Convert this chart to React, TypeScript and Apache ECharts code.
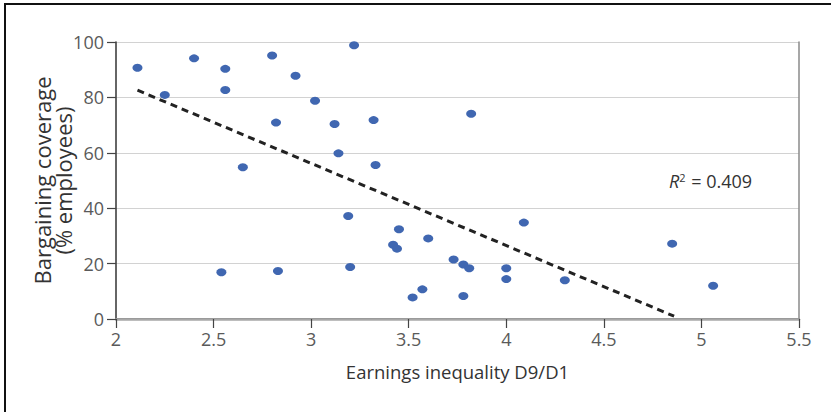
import { useEffect, useRef } from "react";
import * as echarts from "echarts";

// Earnings inequality (D9/D1 ratio) per country
const inequality = [
  2.11, 2.25, 2.4, 2.56, 2.56, 2.8, 2.92, 3.22, 3.02, 2.82, 3.12, 3.32,
  3.82, 2.65, 3.14, 3.33, 3.19, 3.45, 3.42, 3.44, 3.6, 4.09, 4.85, 5.06,
  4.3, 4.0, 4.0, 3.73, 3.78, 3.81, 3.78, 3.57, 3.52, 2.54, 2.83, 3.2,
];

// Collective bargaining coverage (% of employees), same order
const coverage = [
  90.7, 80.9, 94.1, 90.3, 82.7, 95.1, 87.8, 98.8, 78.8, 70.9, 70.4, 71.8,
  74.1, 54.8, 59.8, 55.6, 37.2, 32.4, 26.8, 25.4, 29.1, 34.8, 27.2, 12.0,
  14.0, 18.3, 14.4, 21.5, 19.7, 18.3, 8.3, 10.7, 7.8, 16.9, 17.3, 18.8,
];

// Fitted linear trend, drawn between its two end points
const trendX = [2.11, 4.86];
const trendY = [82.6, 1.0];
const rSquared = "0.409";

// Axis ranges and steps
const xRange = [2, 5.5];
const xStep = 0.5;
const yRange = [0, 100];
const yStep = 20;

const FONT = "'Open Sans', 'Noto Sans', sans-serif";
const TICK_TEXT = "#5a5a5a";
const NAME_TEXT = "#333333";

export default function App() {
  const ref = useRef<HTMLDivElement>(null);

  useEffect(() => {
    if (!ref.current) return;
    const chart = echarts.init(ref.current, undefined, { renderer: "svg" });

    const points = inequality.map((x, i) => [x, coverage[i]]);
    const trend = trendX.map((x, i) => [x, trendY[i]]);

    chart.setOption({
      animation: false,
      backgroundColor: "#ffffff",
      textStyle: { fontFamily: FONT },
      grid: { left: 116, right: 32, top: 42, bottom: 93 },
      xAxis: [
        {
          type: "value",
          min: xRange[0],
          max: xRange[1],
          interval: xStep,
          name: "Earnings inequality D9/D1",
          nameLocation: "middle",
          nameGap: 43,
          nameMoveOverlap: false,
          nameTextStyle: { fontSize: 18.5, color: NAME_TEXT, fontFamily: FONT },
          axisLine: { show: true, lineStyle: { color: "#444", width: 1.5 } },
          axisTick: { show: true, length: 9, lineStyle: { color: "#444", width: 1.2 } },
          axisLabel: {
            fontSize: 18,
            color: TICK_TEXT,
            margin: 11,
            fontFamily: FONT,
            formatter: (v: number) => String(v),
          },
          splitLine: { show: false },
        },
        {
          type: "value",
          position: "top",
          min: xRange[0],
          max: xRange[1],
          interval: xStep,
          axisLine: { show: true, lineStyle: { color: "#a8a8a8", width: 2.5 } },
          axisTick: { show: false },
          axisLabel: { show: false },
          splitLine: { show: false },
        },
      ],
      yAxis: [
        {
          type: "value",
          min: yRange[0],
          max: yRange[1],
          interval: yStep,
          name: "Bargaining coverage\n(% employees)",
          nameLocation: "middle",
          nameGap: 43,
          nameMoveOverlap: false,
          nameTextStyle: {
            fontSize: 22,
            color: NAME_TEXT,
            fontFamily: FONT,
            lineHeight: 21,
          },
          axisLine: { show: true, lineStyle: { color: "#333", width: 1.5 } },
          axisTick: { show: true, length: 9, lineStyle: { color: "#444", width: 1.2 } },
          axisLabel: { fontSize: 18, color: TICK_TEXT, margin: 12, fontFamily: FONT },
          splitLine: { show: true, lineStyle: { color: "#d2d2d2", width: 1.2 } },
        },
        {
          type: "value",
          position: "right",
          min: yRange[0],
          max: yRange[1],
          interval: yStep,
          axisLine: { show: true, lineStyle: { color: "#8a8a8a", width: 1.5 } },
          axisTick: { show: false },
          axisLabel: { show: false },
          splitLine: { show: false },
        },
      ],
      series: [
        {
          type: "line",
          data: trend,
          xAxisIndex: 0,
          yAxisIndex: 0,
          showSymbol: false,
          symbol: "none",
          lineStyle: { color: "#222", width: 3, type: [7, 5] },
          z: 3,
        },
        {
          type: "scatter",
          data: points,
          xAxisIndex: 0,
          yAxisIndex: 0,
          symbol: "circle",
          symbolSize: [10, 8],
          itemStyle: { color: "#4067b1", opacity: 1 },
          z: 4,
        },
      ],
      graphic: [
        {
          type: "rect",
          shape: { x: 5, y: 4, width: 900, height: 500 },
          style: { fill: "none", stroke: "#111", lineWidth: 2 },
          silent: true,
        },
        {
          type: "text",
          left: 669,
          top: 172,
          style: {
            text: `{r|R}{s|2} = ${rSquared}`,
            fontSize: 18,
            fontFamily: FONT,
            fill: NAME_TEXT,
            rich: {
              r: { fontStyle: "italic", fontSize: 18, fontFamily: FONT, fill: NAME_TEXT },
              s: {
                fontSize: 11,
                fontFamily: FONT,
                fill: NAME_TEXT,
                verticalAlign: "top",
                padding: [0, 1, 7, 0],
              },
            },
          },
        },
      ],
    });

    return () => chart.dispose();
  }, []);

  return (
    <div
      ref={ref}
      style={{ position: "fixed", left: 0, top: 0, width: 831, height: 412 }}
    />
  );
}
